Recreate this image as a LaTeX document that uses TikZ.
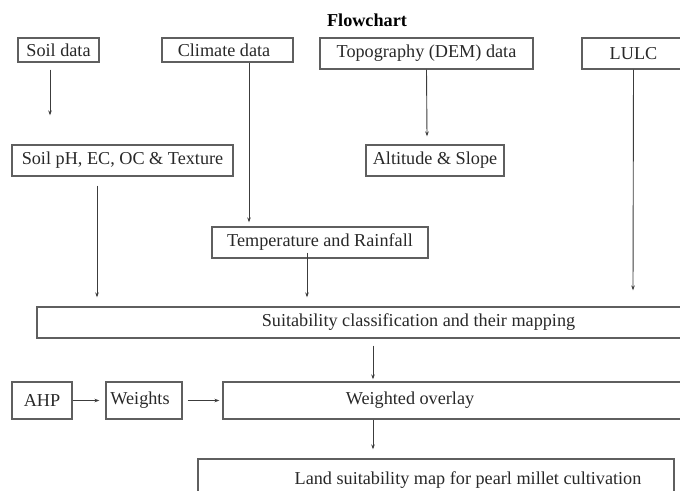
\documentclass[tikz,border=0pt]{standalone}
\usepackage{fontspec}
\setmainfont{Liberation Serif}
\usetikzlibrary{arrows.meta,positioning}
\definecolor{boxgray}{RGB}{95,95,95}
\definecolor{linegray}{RGB}{60,60,60}
\definecolor{textgray}{RGB}{40,40,40}

\begin{document}
\begin{tikzpicture}[x=1pt,y=-1pt,font=\fontsize{18.2}{21}\selectfont,text=textgray,
box/.style={draw=boxgray,line width=1.3pt,inner sep=0pt,minimum height=31pt},
arr/.style={-{Stealth[length=5pt,width=3.6pt]},color=linegray,line width=0.9pt}]
\useasboundingbox (0,0) rectangle (680,490);
\clip (0,0) rectangle (680,490);
\node[font=\fontsize{18.2}{21}\selectfont\bfseries,text=black] (title) at (367,20) {Flowchart};
% data sources
\node[box,minimum width=81pt,minimum height=24pt] (soil) at (58.5,50) {Soil data};
\node[box,minimum width=131pt,minimum height=24pt] (clim) at (227.5,50) {Climate data\hspace*{7pt}};
\node[box,minimum width=213pt] (topo) at (426.5,53.5) {Topography (DEM) data};
\node[box,minimum width=103pt] (lulc) at (633.5,53.5) {LULC};
% derived layers
\node[box,minimum width=221pt] (soilp) at (122.5,160.5) {Soil pH, EC, OC \& Texture};
\node[box,minimum width=138pt] (alt) at (435,160.5) {Altitude \& Slope};
\node[box,minimum width=216pt] (temp) at (320,242.5) {Temperature and Rainfall};
\node[box,minimum width=763pt] (suit) at (418.5,322.5) {Suitability classification and their mapping};
% weighting
\node[box,minimum width=60pt,minimum height=37pt] (ahp) at (42,400.5) {AHP};
\node[box,minimum width=76pt,minimum height=37pt] (wts) at (144,400.5) {Weights\hspace*{8pt}};
\node[box,minimum width=497pt,minimum height=37pt] (over) at (471.5,400.5) {};
\node (overtxt) at (410,400.5) {Weighted overlay};
\node[box,minimum width=476pt,minimum height=44pt] (land) at (436,481) {};
\node (landtxt) at (468,480) {Land suitability map for pearl millet cultivation};
\path[arr]
([xshift=-8.5pt,yshift=-7pt]soil.south) edge ([xshift=-72.5pt,yshift=29pt]soilp.north)
([xshift=21.5pt]clim.south) edge ([xshift=-71pt,yshift=4pt]temp.north)
(topo.south) edge ([xshift=-8pt,yshift=8pt]alt.north)
(lulc.south) edge ([xshift=214.5pt,yshift=16pt]suit.north)
([xshift=-25.5pt,yshift=-9pt]soilp.south) edge ([xshift=-321.5pt,yshift=9pt]suit.north)
([xshift=-13pt,yshift=6pt]temp.south) edge ([xshift=-111.5pt,yshift=9pt]suit.north)
([xshift=-45.5pt,yshift=-7pt]suit.south) edge ([xshift=-98.5pt,yshift=2pt]over.north)
(ahp.east) edge ([xshift=-6pt]wts.west)
([xshift=5pt]wts.east) edge ([xshift=-3pt]over.west)
([xshift=-98.5pt]over.south) edge ([xshift=-63pt,yshift=9pt]land.north);
\end{tikzpicture}
\end{document}
